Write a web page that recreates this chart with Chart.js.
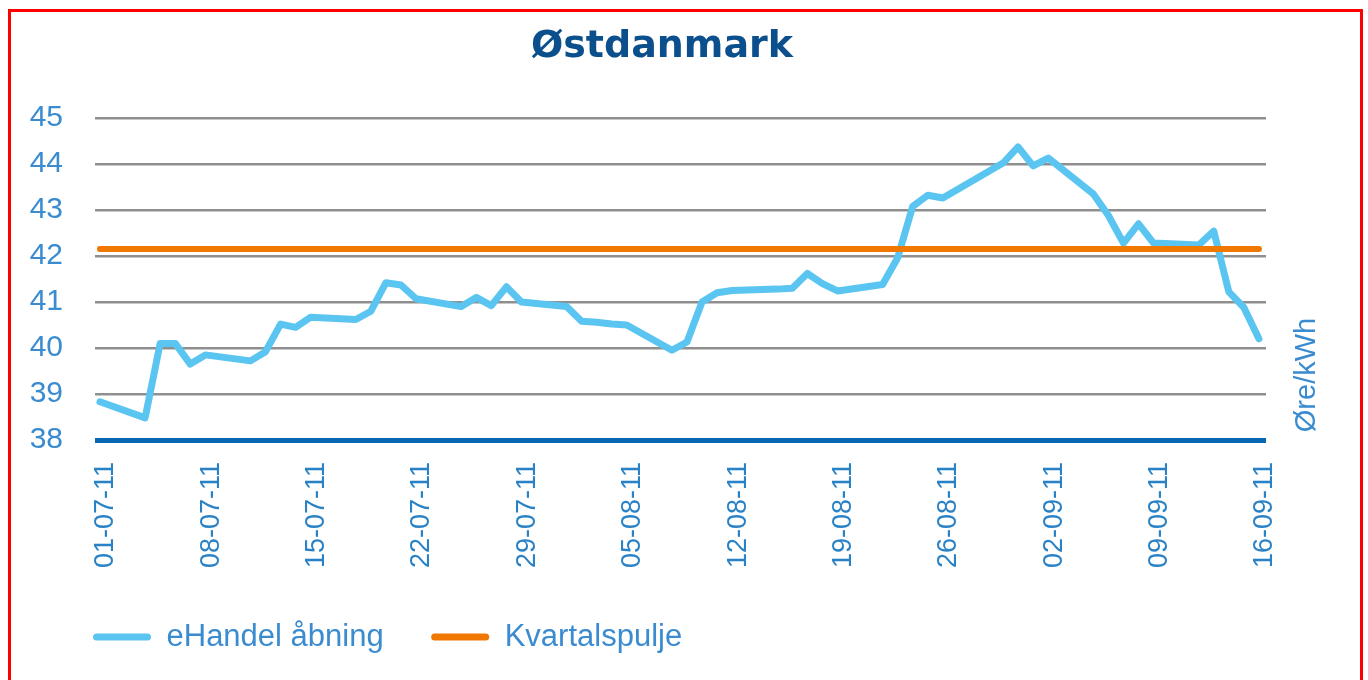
<!DOCTYPE html>
<html>
<head>
<meta charset="utf-8">
<script src="https://cdn.jsdelivr.net/npm/chart.js@4"></script>
<style>
  html, body { margin: 0; padding: 0; background: #fff; overflow: hidden; }
  #wrap { position: relative; width: 1368px; height: 680px; }
  #frame { position: absolute; left: 8px; top: 9px; width: 1349px; height: 720px; border: 3px solid #f00; pointer-events: none; }
</style>
</head>
<body>
<div id="wrap">
  <canvas id="chart" width="1368" height="680"></canvas>
  <div id="frame"></div>
</div>
<script>
// trading days (dd-mm-yy) and the eHandel opening price, øre/kWh
const dates = [
  '01-07-11', '04-07-11', '05-07-11', '06-07-11', '07-07-11', '08-07-11',
  '11-07-11', '12-07-11', '13-07-11', '14-07-11', '15-07-11',
  '18-07-11', '19-07-11', '20-07-11', '21-07-11', '22-07-11',
  '25-07-11', '26-07-11', '27-07-11', '28-07-11', '29-07-11',
  '01-08-11', '02-08-11', '03-08-11', '04-08-11', '05-08-11',
  '08-08-11', '09-08-11', '10-08-11', '11-08-11', '12-08-11',
  '15-08-11', '16-08-11', '17-08-11', '18-08-11', '19-08-11',
  '22-08-11', '23-08-11', '24-08-11', '25-08-11', '26-08-11',
  '29-08-11', '30-08-11', '31-08-11', '01-09-11', '02-09-11',
  '05-09-11', '06-09-11', '07-09-11', '08-09-11', '09-09-11',
  '12-09-11', '13-09-11', '14-09-11', '15-09-11', '16-09-11'
];
const eHandel = [
  38.83, 38.48, 40.10, 40.10, 39.65, 39.85,
  39.72, 39.92, 40.52, 40.45, 40.67,
  40.62, 40.80, 41.42, 41.37, 41.07,
  40.90, 41.10, 40.92, 41.33, 41.00,
  40.90, 40.58, 40.56, 40.52, 40.50,
  39.95, 40.13, 41.00, 41.20, 41.25,
  41.28, 41.30, 41.62, 41.40, 41.24,
  41.38, 41.96, 43.08, 43.32, 43.26,
  43.83, 44.02, 44.37, 43.96, 44.13,
  43.35, 42.88, 42.28, 42.70, 42.28,
  42.24, 42.54, 41.22, 40.88, 40.20
];
const kvartalspulje = [42.15, 42.15];
const kvartalDates = ['01-07-11', '16-09-11'];
const tickLabels = ['01-07-11', '08-07-11', '15-07-11', '22-07-11', '29-07-11', '05-08-11',
  '12-08-11', '19-08-11', '26-08-11', '02-09-11', '09-09-11', '16-09-11'];

// days since 01-07-11
function dayOf(s) {
  const [d, m, y] = s.split('-').map(Number);
  return (Date.UTC(2000 + y, m - 1, d) - Date.UTC(2011, 6, 1)) / 86400000;
}

const blueText = '#3a8bd0';
const font = '"Liberation Sans", Arial, sans-serif';

// unit label reads bottom-to-top on the right, and legend sits in from the left edge
const extras = {
  id: 'extras',
  afterLayout(chart) {
    const lg = chart.legend;
    const dx = chart.chartArea.left - 2 - (lg.left + lg.options.labels.padding);
    lg.left += dx;
    lg.right += dx;
  },
  afterDraw(chart) {
    const {ctx, chartArea} = chart;
    ctx.save();
    ctx.translate(chartArea.right + 41, chartArea.bottom - 65);
    ctx.rotate(-Math.PI / 2);
    ctx.font = '29px ' + font;
    ctx.fillStyle = blueText;
    ctx.textAlign = 'center';
    ctx.textBaseline = 'middle';
    ctx.fillText('Øre/kWh', 0, 0);
    ctx.restore();
  }
};

new Chart(document.getElementById('chart'), {
  type: 'line',
  data: {
    datasets: [{
      label: 'eHandel åbning',
      data: dates.map((d, i) => ({x: dayOf(d), y: eHandel[i]})),
      borderColor: '#5bc5f2',
      backgroundColor: '#5bc5f2',
      borderWidth: 7,
      borderJoinStyle: 'round',
      borderCapStyle: 'round',
      pointRadius: 0,
      tension: 0,
      order: 1
    }, {
      label: 'Kvartalspulje',
      data: kvartalDates.map((d, i) => ({x: dayOf(d), y: kvartalspulje[i]})),
      borderColor: '#f07800',
      backgroundColor: '#f07800',
      borderWidth: 6,
      borderCapStyle: 'round',
      pointRadius: 0,
      order: 0
    }]
  },
  options: {
    responsive: false,
    animation: false,
    layout: {padding: {top: 0, left: 25, right: 69, bottom: 17.5}},
    scales: {
      x: {
        type: 'linear',
        min: -0.33,
        max: 77.47,
        afterBuildTicks: s => { s.ticks = tickLabels.map(t => ({value: dayOf(t)})); },
        afterFit: s => { s.height = 134; },
        grid: {display: false},
        border: {display: false},
        ticks: {
          autoSkip: false,
          minRotation: 90,
          maxRotation: 90,
          padding: 14,
          labelOffset: 6,
          color: '#2a82c6',
          font: {family: font, size: 27},
          callback: (v, i) => tickLabels[i]
        }
      },
      y: {
        min: 38,
        max: 45,
        afterFit: s => { s.width = 70; },
        border: {display: false},
        grid: {
          drawTicks: false,
          color: c => c.tick.value === 38 ? '#0767b1' : '#8f8f8f',
          lineWidth: c => c.tick.value === 38 ? 5 : 2.5
        },
        ticks: {
          stepSize: 1,
          padding: 32,
          color: blueText,
          font: {family: font, size: 30}
        }
      },
      y2: {
        position: 'right',
        afterFit: s => { s.width = 33; },
        grid: {display: false},
        border: {display: false},
        ticks: {display: false}
      }
    },
    plugins: {
      title: {
        display: true,
        text: 'Østdanmark',
        color: '#0b4f8c',
        font: {family: '"DejaVu Sans", sans-serif', size: 38, weight: 'bold'},
        padding: {top: 24, bottom: 48.4}
      },
      legend: {
        position: 'bottom',
        align: 'start',
        labels: {
          boxWidth: 58,
          boxHeight: 7,
          useBorderRadius: true,
          borderRadius: 3.5,
          padding: 47.5,
          color: blueText,
          font: {family: font, size: 31},
          sort: (a, b) => a.datasetIndex - b.datasetIndex,
          generateLabels: chart => Chart.defaults.plugins.legend.labels.generateLabels(chart)
            .map(l => ({...l, lineWidth: 0, fillStyle: l.strokeStyle}))
        }
      },
      tooltip: {enabled: false}
    }
  },
  plugins: [extras]
});
</script>
</body>
</html>
